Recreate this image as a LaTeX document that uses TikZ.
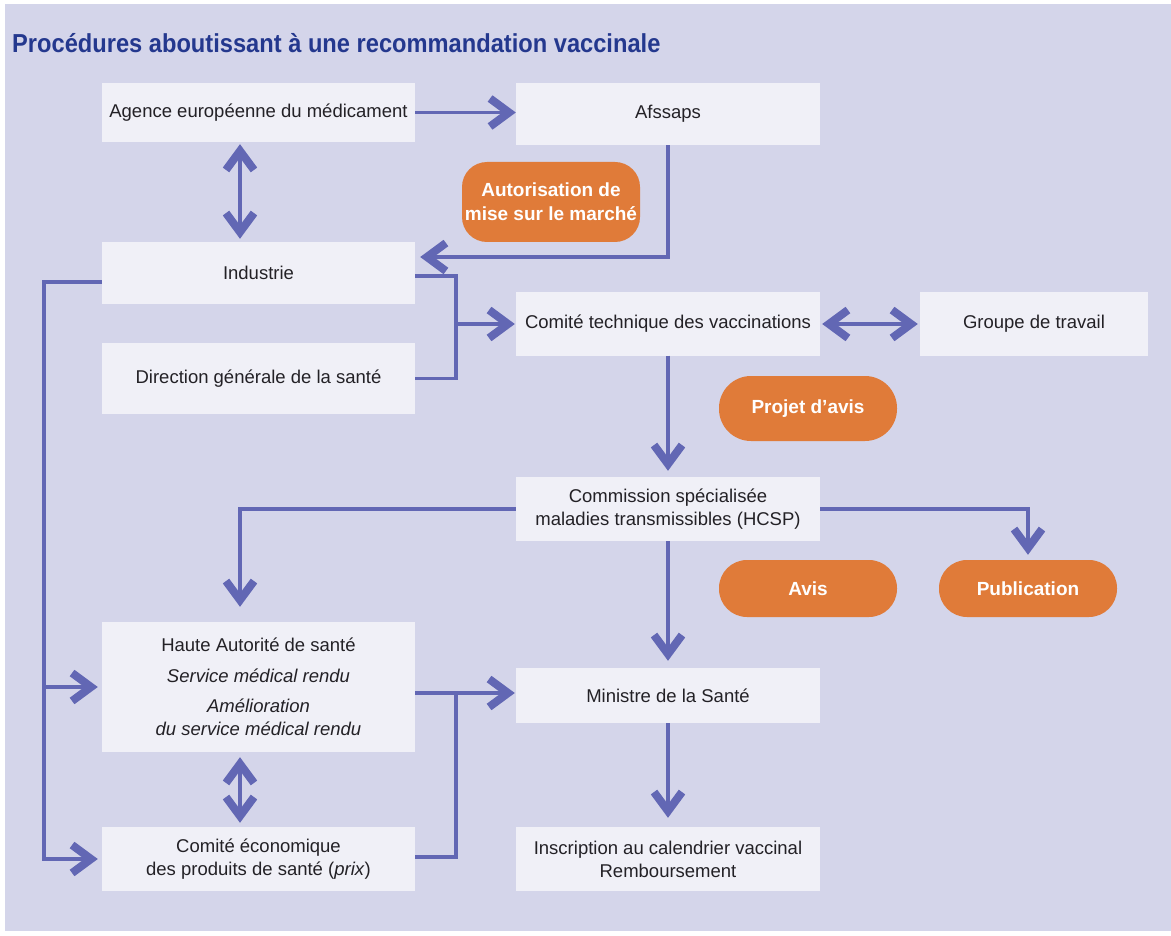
\documentclass[tikz,border=0pt]{standalone}
\usepackage{fontspec}
\setmainfont{Liberation Sans}
\newfontfamily\titlefont{Liberation Sans}[FakeStretch=0.91]
\usetikzlibrary{arrows.meta}
\definecolor{bgviolet}{RGB}{212,213,234}
\definecolor{boxwhite}{RGB}{240,240,247}
\definecolor{linkblue}{RGB}{98,103,180}
\definecolor{pillorange}{RGB}{224,123,57}
\definecolor{titleblue}{RGB}{36,56,142}
\definecolor{textgrey}{RGB}{35,33,38}

\begin{document}
\begin{tikzpicture}[x=1pt, y=-1pt,
    box/.style={fill=boxwhite, inner sep=0pt, align=center, text=textgrey,
        font=\fontsize{18.5}{23}\selectfont, minimum width=#1},
    box/.default=313pt,
    pill/.style={fill=pillorange, rounded corners=#1, inner sep=0pt, align=center,
        text=white, font=\fontsize{19}{24}\selectfont\bfseries, minimum width=178pt},
    pill/.default=28pt,
    link/.style={draw=linkblue, line width=3.5pt},
    >={Straight Barb[length=19pt, width=28pt, line width=8pt]}]
    % background
    \useasboundingbox (0,0) rectangle (1171,936);
    \fill[bgviolet] (5,4) rectangle (1171,931);
    \node[anchor=base west, inner sep=0pt, text=titleblue,
        font=\titlefont\fontsize{26}{30}\selectfont\bfseries] (title) at (12,53)
        {Procédures aboutissant à une recommandation vaccinale};

    % left column
    \node[box, minimum height=59pt] (age) at (258.5,112.5) {Agence européenne du médicament};
    \node[box, minimum height=62pt] (ind) at (258.5,273) {Industrie};
    \node[box, minimum height=71pt] (dgs) at (258.5,378.5) {Direction générale de la santé};
    \node[box, minimum height=130pt] (has) at (258.5,687) {Haute Autorité de santé\\[8pt]
        \textit{Service médical rendu}\\[7pt] \textit{Amélioration}\\ \textit{du service médical rendu}};
    \node[box, minimum height=64pt] (eco) at (258.5,859) {Comité économique\\des produits de santé (\textit{prix})};

    % middle and right column
    \node[box=304pt, minimum height=62pt] (afs) at (668,114) {Afssaps};
    \node[box=304pt, minimum height=63pt] (ctv) at (668,324) {Comité technique des vaccinations};
    \node[box=228pt, minimum height=63pt] (grp) at (1034,324) {Groupe de travail};
    \node[box=304pt, minimum height=64pt] (com) at (668,509) {Commission spécialisée\\maladies transmissibles (HCSP)};
    \node[box=304pt, minimum height=55pt] (min) at (668,695.5) {Ministre de la Santé};
    \node[box=304pt, minimum height=64pt] (ins) at (668,859) {Inscription au calendrier vaccinal\\Remboursement};

    % orange labels
    \node[pill=25pt, minimum height=80pt] (amm) at (551,202) {Autorisation de\\mise sur le marché};
    \node[pill=32pt, minimum height=65pt] (projet) at (808,408.5) {Projet d’avis};
    \node[pill, minimum height=57pt] (avis) at (808,588.5) {Avis};
    \node[pill, minimum height=57pt] (pub) at (1028,588.5) {Publication};

    % connectors
    \coordinate (brk) at (456,324);
    \coordinate (lft) at (44,687);
    \coordinate (brkb) at (456,693);
    \draw[link,->] (age.east) -- (afs.west |- age.east);
    \draw[link,<->, shorten <=2pt, shorten >=3pt] ([xshift=-18.5pt]age.south) -- ([xshift=-18.5pt]ind.north);
    \draw[link,->, shorten >=5pt] (afs.south) |- ([yshift=16pt]ind.east);
    \draw[link] ([yshift=-3pt]ind.east) -| (brk) |- (dgs.east);
    \draw[link,->, shorten >=1pt] (brk) -- (ctv.west);
    \draw[link,<->, shorten <=2pt, shorten >=2pt] (ctv.east) -- (grp.west);
    \draw[link,->, shorten >=6pt] (ctv.south) -- (com.north);
    \draw[link,->, shorten >=15pt] (com.west) -| ([xshift=-18.5pt]has.north);
    \draw[link,->, shorten >=5pt] (com.east) -| (pub.north);
    \draw[link,->, shorten >=7pt] (com.south) -- (min.north);
    \draw[link,->, shorten >=4pt] ([yshift=-9pt]ind.west) -| (lft) |- (eco.west);
    \draw[link,->, shorten >=4pt] (lft) -- (has.west);
    \draw[link,<->, shorten <=5pt, shorten >=4pt] ([xshift=-18.5pt]has.south) -- ([xshift=-18.5pt]eco.north);
    \draw[link] ([yshift=-6pt]has.east) -- (brkb) |- ([yshift=2pt]eco.east);
    \draw[link,->, shorten >=1pt] (brkb) -- (min.west |- brkb);
    \draw[link,->, shorten >=9pt] (min.south) -- (ins.north);
\end{tikzpicture}
\end{document}
